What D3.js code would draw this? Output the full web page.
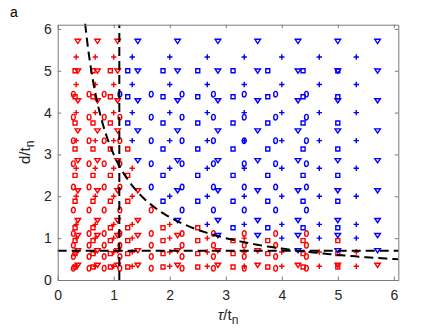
<!DOCTYPE html>
<html>
<head>
<meta charset="utf-8">
<script src="https://cdn.jsdelivr.net/npm/d3@7"></script>
<style>
body { margin: 0; background: #fff; }
svg { display: block; }
</style>
</head>
<body>
<script>
// columns / rows of each marker family (tau/t_n and d/t_n)
var triX  = [0.36, 0.71, 1.07, 1.43, 2.14, 2.86, 3.57, 4.29, 5.00, 5.71];
var triY  = [0.36, 0.71, 1.07, 1.43, 2.14, 2.86, 3.57, 4.29, 5.00, 5.71];
var plusX = [0.33, 0.67, 1.00, 1.33, 2.00, 2.67, 3.33, 4.00, 4.67, 5.33];
var plusY = [0.33, 0.67, 1.00, 1.33, 2.00, 2.67, 3.33, 4.00, 4.67, 5.33];
var sqX   = [0.31, 0.63, 0.94, 1.25, 1.88, 2.50, 3.13, 3.75, 4.38, 5.00];
var sqY   = [0.31, 0.63, 0.94, 1.25, 1.88, 2.50, 3.13, 3.75, 4.38, 5.00];
var cirX  = [0.28, 0.56, 0.83, 1.11, 1.67, 2.22, 2.78, 3.33, 3.89, 4.44];
var cirY  = [0.28, 0.56, 0.83, 1.11, 1.67, 2.22, 2.78, 3.33, 3.89, 4.44];

// how many rows (from the bottom) are red in each column
var triRed  = [10, 10, 10, 5, 3, 2, 2, 1, 1, 1];
var plusRed = [10, 10, 10, 6, 4, 3, 3, 2, 2, 2];
var sqRed   = [10, 10, 10, 7, 4, 4, 3, 3, 3, 3];
var cirRed  = [10, 10, 10, 9, 5, 4, 4, 4, 4, 4];

// dashed boundaries
var vLineX = 1.1;
var hLineY = 0.7;
var curveK = 3.0;   // y = K / x
var curveX = [0.49, 0.6, 0.75, 0.9, 1.1, 1.3, 1.6, 2.0, 2.5, 3.0, 3.5, 4.0, 4.5, 5.0, 5.5, 6.08];

var xTicks = [0, 1, 2, 3, 4, 5, 6];
var yTicks = [0, 1, 2, 3, 4, 5, 6];

var W = 441, H = 331;
var margin = {top: 24.7, right: 42.7, bottom: 51, left: 57.7};
var iw = W - margin.left - margin.right,
	ih = H - margin.top - margin.bottom;

var RED = "#ff0000", BLUE = "#0000ff";
var tickColor = "#262626", axisColor = "#7a7a7a";
var FONT = "'Liberation Sans', Arial, sans-serif";

var svg = d3.select("body").append("svg")
	.attr("width", W)
	.attr("height", H);

var x = d3.scaleLinear().domain([0, 6.08]).range([0, iw]);
var y = d3.scaleLinear().domain([0, 6.1]).range([ih, 0]);

var g = svg.append("g").attr("transform", "translate(" + margin.left + "," + margin.top + ")");

function build(xs, ys, reds, type) {
	var out = [];
	xs.forEach(function (xv, i) {
		ys.forEach(function (yv, j) {
			out.push({x: xv, y: yv, type: type, red: j < reds[i]});
		});
	});
	return out;
}

var points = []
	.concat(build(cirX, cirY, cirRed, "cir"))
	.concat(build(sqX, sqY, sqRed, "sq"))
	.concat(build(plusX, plusY, plusRed, "plus"))
	.concat(build(triX, triY, triRed, "tri"));

var shapes = {
	tri: "M-2.8,-1.7L2.8,-1.7L0,2.5Z",
	sq: "M-2,-2H2V2H-2Z",
	plus: "M-2.7,0H2.7M0,-2.7V2.7",
	cir: "M0,-2.8A1.9,2.8 0 1,1 0,2.8A1.9,2.8 0 1,1 0,-2.8Z"
};

g.append("g").selectAll("path.mk")
	.data(points)
	.enter()
	.append("path")
	.attr("class", "mk")
	.attr("d", function (d) { return shapes[d.type]; })
	.attr("transform", function (d) { return "translate(" + x(d.x) + "," + y(d.y) + ")"; })
	.attr("fill", "none")
	.attr("stroke", function (d) { return d.red ? RED : BLUE; })
	.attr("stroke-width", 1.4);

// dashed lines on top
var dash = "9,5";
g.append("line")
	.attr("x1", x(vLineX)).attr("x2", x(vLineX))
	.attr("y1", y(0)).attr("y2", y(6.1))
	.attr("stroke", "#000").attr("stroke-width", 2).attr("stroke-dasharray", dash);
g.append("line")
	.attr("x1", x(0)).attr("x2", x(6.08))
	.attr("y1", y(hLineY)).attr("y2", y(hLineY))
	.attr("stroke", "#000").attr("stroke-width", 2).attr("stroke-dasharray", dash);

var curvePts = [];
curveX.forEach(function (cx, i) {
	if (i == 0) { curvePts.push([cx, curveK / cx]); return; }
	var prev = curveX[i - 1];
	for (var s = 1; s <= 8; s++) {
		var xv = prev + (cx - prev) * s / 8;
		curvePts.push([xv, curveK / xv]);
	}
});
g.append("path")
	.datum(curvePts)
	.attr("d", d3.line().x(function (d) { return x(d[0]); }).y(function (d) { return y(d[1]); }))
	.attr("fill", "none")
	.attr("stroke", "#000").attr("stroke-width", 2).attr("stroke-dasharray", dash);

// axes (box with inward ticks)
function styleAxis(sel) {
	sel.select(".domain").attr("stroke", axisColor);
	sel.selectAll(".tick line").attr("stroke", axisColor);
	sel.selectAll(".tick text")
		.attr("fill", tickColor)
		.style("font-family", FONT)
		.style("font-size", "14px");
}

var fmt = d3.format("d");
g.append("g")
	.attr("transform", "translate(0," + ih + ")")
	.call(d3.axisBottom(x).tickValues(xTicks).tickFormat(fmt).tickSizeInner(-3.5).tickSizeOuter(0).tickPadding(10))
	.call(styleAxis);
g.append("g")
	.call(d3.axisLeft(y).tickValues(yTicks).tickFormat(fmt).tickSizeInner(-3.5).tickSizeOuter(0).tickPadding(6))
	.call(styleAxis);
g.append("g")
	.call(d3.axisTop(x).tickValues(xTicks).tickSizeInner(-3.5).tickSizeOuter(0).tickFormat(""))
	.call(styleAxis);
g.append("g")
	.attr("transform", "translate(" + iw + ",0)")
	.call(d3.axisRight(y).tickValues(yTicks).tickSizeInner(-3.5).tickSizeOuter(0).tickFormat(""))
	.call(styleAxis);

// labels
var xl = svg.append("text")
	.attr("x", margin.left + iw / 2)
	.attr("y", 320)
	.attr("text-anchor", "middle")
	.attr("fill", tickColor)
	.style("font-family", FONT)
	.style("font-size", "15px");
xl.append("tspan").style("font-style", "italic").text("τ");
xl.append("tspan").text("/t");
xl.append("tspan").attr("dy", 4).style("font-size", "12px").text("n");

var yl = svg.append("text")
	.attr("transform", "translate(30," + (margin.top + ih / 2) + ") rotate(-90)")
	.attr("text-anchor", "middle")
	.attr("fill", tickColor)
	.style("font-family", FONT)
	.style("font-size", "15px");
yl.append("tspan").text("d/t");
yl.append("tspan").attr("dy", 4).style("font-size", "12px").text("n");

svg.append("text")
	.attr("x", 10)
	.attr("y", 17)
	.attr("fill", "#000")
	.style("font-family", FONT)
	.style("font-size", "14px")
	.text("a");
</script>
</body>
</html>
